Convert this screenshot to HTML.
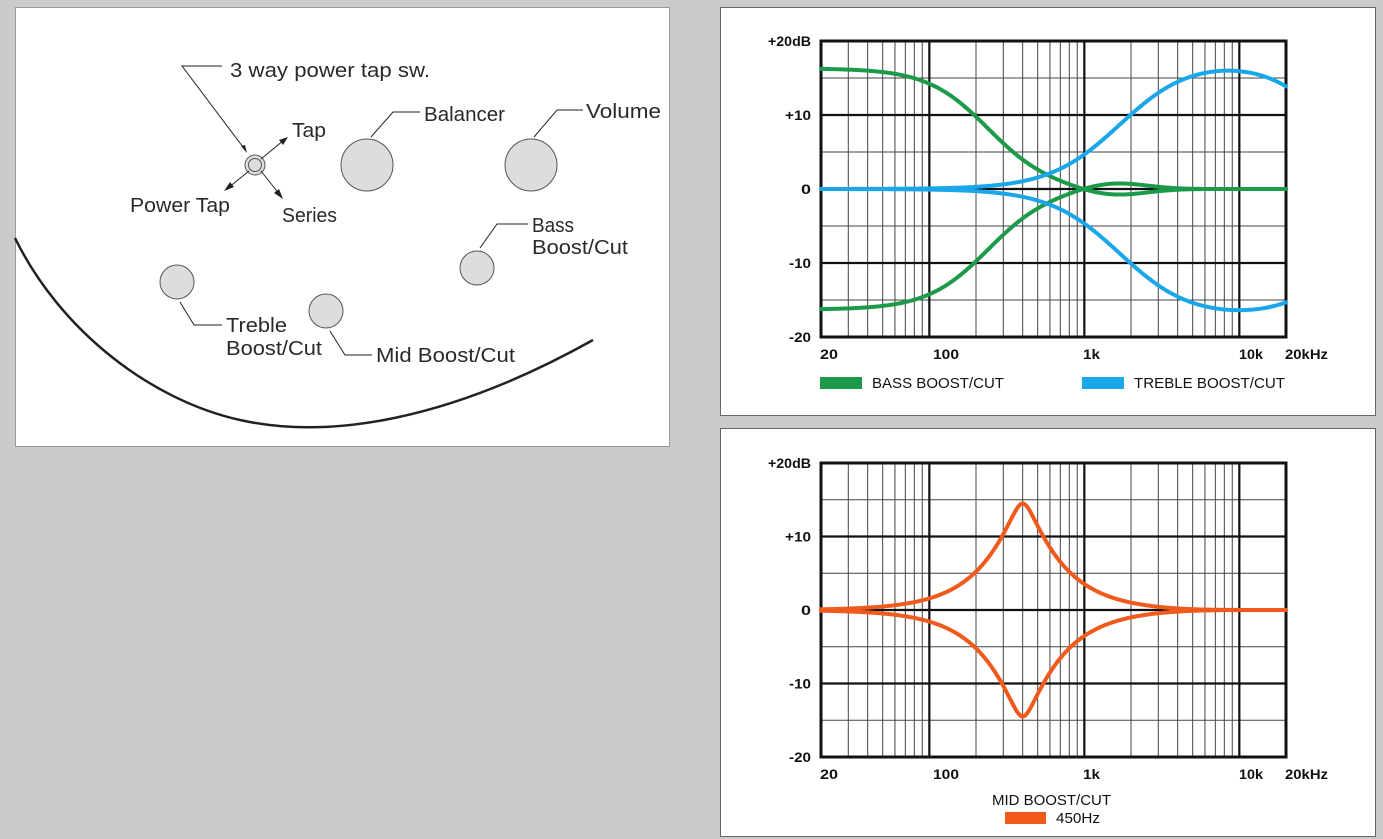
<!DOCTYPE html>
<html><head><meta charset="utf-8"><style>
html,body{margin:0;padding:0;background:#cbcbcb;width:1383px;height:839px;overflow:hidden}
svg{position:absolute;left:0;top:0}
</style></head><body>
<svg id="s" width="1383" height="839" xmlns="http://www.w3.org/2000/svg" font-family="'Liberation Sans', sans-serif">
<rect x="15.5" y="7.5" width="654" height="439" fill="#fff" stroke="#999"/>
<rect x="720.5" y="7.5" width="655" height="408" fill="#fff" stroke="#666"/>
<rect x="720.5" y="428.5" width="655" height="408" fill="#fff" stroke="#666"/>
<g fill="none" stroke="#222" stroke-width="1">
<path d="M15,238 C60,330 150,400 240,420 C330,440 450,420 593,340" stroke-width="2.5"/>
<circle cx="255" cy="165" r="10" fill="#ddd" stroke="#555"/>
<circle cx="255" cy="165" r="6.5" fill="#ddd" stroke="#555"/>
<circle cx="367" cy="165" r="26" fill="#ddd" stroke="#555"/>
<circle cx="531" cy="165" r="26" fill="#ddd" stroke="#555"/>
<circle cx="477" cy="268" r="17" fill="#ddd" stroke="#555"/>
<circle cx="177" cy="282" r="17" fill="#ddd" stroke="#555"/>
<circle cx="326" cy="311" r="17" fill="#ddd" stroke="#555"/>
<path d="M222,66 H182 L246,151"/>
<path d="M420,112 H393 L371,137"/>
<path d="M583,110 H557 L534,137"/>
<path d="M528,224 H497 L480,248"/>
<path d="M222,325 H194 L180,302"/>
<path d="M372,355 H345 L330,331"/>
<path d="M261,159 L284,140 M249,171 L228,188 M261,171 L280,195"/>
</g>
<g fill="#222">
<polygon points="288,137 279,140 283,145"/>
<polygon points="224,191 230,182 234,187"/>
<polygon points="283,199 274,193 279,189"/>
<polygon points="247,153 241,146 245,145"/>
</g>
<g font-size="20" fill="#2a2a2a">
<text x="230" y="77" textLength="200" lengthAdjust="spacingAndGlyphs">3 way power tap sw.</text>
<text x="292" y="137" textLength="34" lengthAdjust="spacingAndGlyphs">Tap</text>
<text x="424" y="121" textLength="81" lengthAdjust="spacingAndGlyphs">Balancer</text>
<text x="586" y="118" textLength="75" lengthAdjust="spacingAndGlyphs">Volume</text>
<text x="130" y="212" textLength="100" lengthAdjust="spacingAndGlyphs">Power Tap</text>
<text x="282" y="222" textLength="55" lengthAdjust="spacingAndGlyphs">Series</text>
<text x="532" y="232" textLength="42" lengthAdjust="spacingAndGlyphs">Bass</text>
<text x="532" y="254" textLength="96" lengthAdjust="spacingAndGlyphs">Boost/Cut</text>
<text x="226" y="332" textLength="61" lengthAdjust="spacingAndGlyphs">Treble</text>
<text x="226" y="355" textLength="96" lengthAdjust="spacingAndGlyphs">Boost/Cut</text>
<text x="376" y="362" textLength="139" lengthAdjust="spacingAndGlyphs">Mid Boost/Cut</text>
</g>
</svg>
<script>
const s=document.getElementById('s');const NS='http://www.w3.org/2000/svg';
function el(t,a,txt){const e=document.createElementNS(NS,t);for(const k in a)e.setAttribute(k,a[k]);if(txt!==undefined)e.textContent=txt;s.appendChild(e);return e;}
const X0=821,DEC=155;
function fx(f){return X0+DEC*Math.log10(f/20);}
function T(x,y,t,w,extra){return el('text',Object.assign({x:x,y:y,'font-size':14,'font-weight':'bold',fill:'#111',textLength:w,lengthAdjust:'spacingAndGlyphs'},extra||{}),t);}
function chart(top,zero,bottom){
 const L=fx(20),R=fx(20000),dy=(bottom-top)/40;
 const fy=d=>zero-d*dy;
 for(let d=-15;d<=15;d+=5){if(d%10)el('line',{x1:L,x2:R,y1:fy(d),y2:fy(d),stroke:'#444','stroke-width':1});}
 const minors=[];for(let f=30;f<100;f+=10)minors.push(f);for(let f=200;f<1000;f+=100)minors.push(f);for(let f=2000;f<10000;f+=1000)minors.push(f);
 minors.forEach(f=>el('line',{x1:fx(f),x2:fx(f),y1:top,y2:bottom,stroke:'#444','stroke-width':1}));
 [100,1000,10000].forEach(f=>el('line',{x1:fx(f),x2:fx(f),y1:top,y2:bottom,stroke:'#111','stroke-width':2.2}));
 [-10,0,10].forEach(d=>el('line',{x1:L,x2:R,y1:fy(d),y2:fy(d),stroke:'#111','stroke-width':2.2}));
 el('rect',{x:L,y:top,width:R-L,height:bottom-top,fill:'none',stroke:'#111','stroke-width':3});
 T(768,fy(20)+5,'+20dB',43);T(785,fy(10)+5,'+10',26);T(801,fy(0)+5,'0',10);T(789,fy(-10)+5,'-10',22);T(789,fy(-20)+5,'-20',22);
 const ly=bottom+22;
 T(820,ly,'20',18);T(933,ly,'100',26);T(1083,ly,'1k',17);T(1239,ly,'10k',24);T(1285,ly,'20kHz',43);
 return fy;
}
function curve(fy,fn,col){
 let p='';for(let i=0;i<=400;i++){const f=20*Math.pow(1000,i/400);p+=(i?'L':'M')+fx(f).toFixed(2)+','+fy(fn(f)).toFixed(2);}
 el('path',{d:p,fill:'none',stroke:col,'stroke-width':4,'stroke-linecap':'round','stroke-linejoin':'round'});
}
const G='#1c9a4a',B='#1aa7ea',O='#f05a1c';
let fy=chart(41,189,337);
const bass=f=>16.3/(1+Math.pow(f/240,2.2))-1.0*Math.exp(-Math.pow(Math.log10(f/1500)/0.3,2));
curve(fy,bass,G);curve(fy,f=>-bass(f),G);
curve(fy,f=>17.5/(1+Math.pow(1700/f,1.9))/(1+Math.pow(f/40000,2)),B);
curve(fy,f=>-17.5/(1+Math.pow(1700/f,1.9))/(1+Math.pow(f/55000,2)),B);
el('rect',{x:820,y:377,width:42,height:12,fill:G});
T(872,388,'BASS BOOST/CUT',132,{'font-weight':'normal','font-size':15});
el('rect',{x:1082,y:377,width:42,height:12,fill:B});
T(1134,388,'TREBLE BOOST/CUT',151,{'font-weight':'normal','font-size':15});
fy=chart(463,610,757);
const mid=f=>{const L=Math.log10(f/400);const r=Math.sqrt(L*L+0.0025)-0.05;return 14.5*Math.exp(-r/0.25)*(1/(1+Math.pow(f/5000,3)));};
curve(fy,mid,O);curve(fy,f=>-mid(f),O);
T(992,805,'MID BOOST/CUT',119,{'font-weight':'normal','font-size':15});
el('rect',{x:1005,y:812,width:41,height:12,fill:O});
T(1056,823,'450Hz',44,{'font-weight':'normal','font-size':15});
</script>
</body></html>
